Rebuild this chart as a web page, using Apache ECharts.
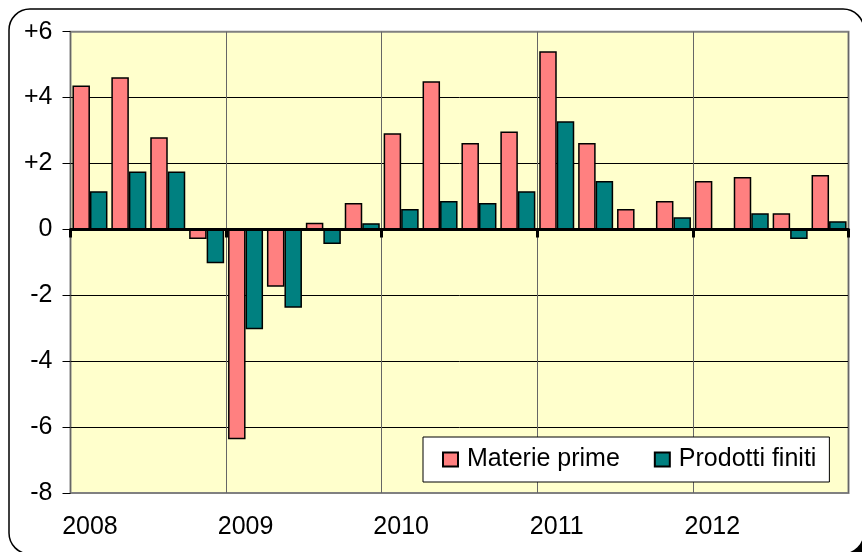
<!DOCTYPE html>
<html>
<head>
<meta charset="utf-8">
<script src="https://cdn.jsdelivr.net/npm/echarts@6/dist/echarts.min.js"></script>
<style>
  html, body { margin: 0; padding: 0; background: #fff; overflow: hidden; }
  #chart { width: 862px; height: 552px; }
</style>
</head>
<body>
<div id="chart"></div>
<script>
const years = ['2008', '2009', '2010', '2011', '2012']
const quarters = ['T1', 'T2', 'T3', 'T4']
const categories = []
years.forEach((y) => quarters.forEach((q) => categories.push(y + ' ' + q)))

const materiePrime = [4.37, 4.62, 2.80, -0.29, -6.37, -1.74, 0.20, 0.80, 2.92, 4.50, 2.62, 2.97, 5.41, 2.62, 0.62, 0.86, 1.47, 1.59, 0.49, 1.65]
const prodottiFiniti = [1.16, 1.76, 1.76, -1.03, -3.03, -2.38, -0.44, 0.19, 0.62, 0.86, 0.80, 1.16, 3.28, 1.47, 0.04, 0.37, 0.0, 0.49, -0.29, 0.25]

const FONT = 'Liberation Sans, Arial, sans-serif'
const yearStart = (i) => i % 4 === 0

// outer rounded frame, partly cut by the page edge
const frame = { x: 9, y: 9, width: 855, height: 545, r: 21 }
const shadowOffset = 6

const chart = echarts.init(document.getElementById('chart'))

const option = {
  animation: false,
  graphic: [
    {
      type: 'rect',
      z: -11,
      silent: true,
      shape: { ...frame, x: frame.x + shadowOffset, y: frame.y + shadowOffset },
      style: { fill: '#000' },
    },
    {
      type: 'rect',
      z: -10,
      silent: true,
      shape: frame,
      style: { fill: '#fff', stroke: '#000', lineWidth: 1.5 },
    },
  ],
  grid: {
    left: 70.5,
    right: 13.5,
    top: 31.7,
    bottom: 59,
    show: true,
    backgroundColor: '#FFFFCC',
    borderColor: '#808080',
    borderWidth: 2,
  },
  legend: {
    left: 423,
    top: 437,
    orient: 'horizontal',
    backgroundColor: '#fff',
    borderColor: '#000',
    borderWidth: 1,
    borderRadius: 0,
    padding: [10, 13, 10, 19],
    itemWidth: 15,
    itemHeight: 14,
    itemGap: 34,
    icon: 'rect',
    textStyle: { fontFamily: FONT, fontSize: 25, color: '#000', padding: [0, 0, 0, 4] },
    data: ['Materie prime', 'Prodotti finiti'],
  },
  xAxis: [
    {
      type: 'category',
      data: categories,
      boundaryGap: true,
      axisLine: { onZero: true, lineStyle: { color: '#000', width: 3 } },
      axisTick: { show: true, length: 8, interval: (i) => yearStart(i), lineStyle: { color: '#000', width: 3 } },
      axisLabel: { show: false },
      splitLine: { show: true, interval: (i) => yearStart(i), lineStyle: { color: '#666', width: 1 } },
    },
    {
      type: 'category',
      data: categories,
      position: 'bottom',
      boundaryGap: true,
      axisLine: { show: false, onZero: false },
      axisTick: { show: false },
      splitLine: { show: false },
      axisLabel: {
        show: true,
        interval: 0,
        margin: 22,
        fontFamily: FONT,
        fontSize: 25,
        color: '#000',
        formatter: (v, i) => (yearStart(i) ? v.split(' ')[0] : ''),
      },
    },
  ],
  yAxis: {
    type: 'value',
    min: -8,
    max: 6,
    interval: 2,
    axisLine: { show: false },
    axisTick: { show: true, length: 8, lineStyle: { color: '#000', width: 1 } },
    axisLabel: {
      margin: 18,
      fontFamily: FONT,
      fontSize: 25,
      color: '#000',
      formatter: (v) => (v > 0 ? '+' + v : String(v)),
    },
    splitLine: { show: true, showMinLine: false, showMaxLine: false, lineStyle: { color: '#000', width: 1 } },
  },
  series: [
    {
      name: 'Materie prime',
      type: 'bar',
      xAxisIndex: 0,
      data: materiePrime,
      barGap: '0%',
      barCategoryGap: '10%',
      itemStyle: { color: '#FF8080', borderColor: '#000', borderWidth: 1.5 },
    },
    {
      name: 'Prodotti finiti',
      type: 'bar',
      xAxisIndex: 0,
      data: prodottiFiniti,
      barGap: '0%',
      barCategoryGap: '10%',
      itemStyle: { color: '#008080', borderColor: '#000', borderWidth: 1.5 },
    },
  ],
}

chart.setOption(option)
</script>
</body>
</html>
